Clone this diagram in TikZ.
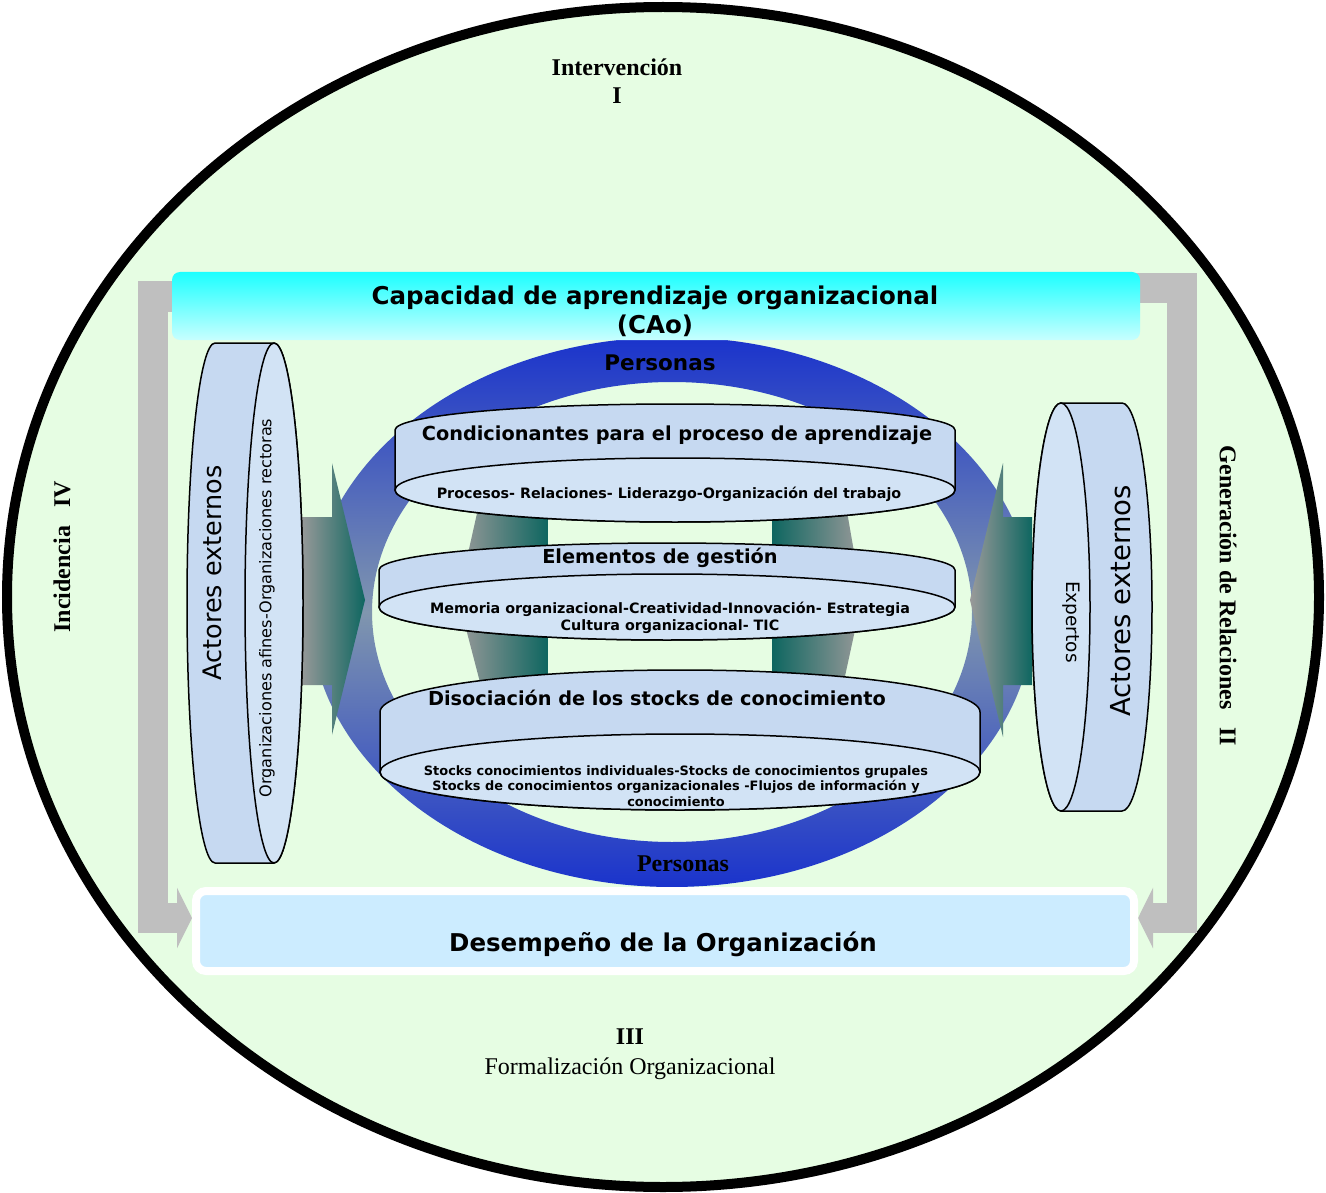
\documentclass[tikz,border=0pt]{standalone}
\usepackage{fontspec}
\setmainfont{Liberation Serif}
\setsansfont{DejaVu Sans}
\usetikzlibrary{arrows.meta}

\definecolor{fondo}{HTML}{E6FDE3}
\definecolor{barra}{HTML}{BFBFBF}
\definecolor{cilside}{HTML}{C6D9F1}
\definecolor{cilface}{HTML}{D2E3F5}
\definecolor{cian}{HTML}{1CFFFF}
\definecolor{cianclaro}{HTML}{C8FFFF}
\definecolor{desfill}{HTML}{CCECFF}
\definecolor{anillo}{HTML}{1A33CC}
\definecolor{anillomed}{HTML}{8096AE}
\definecolor{flechagris}{HTML}{9A9A9A}
\definecolor{flechaverde}{HTML}{0E6660}

\pgfdeclarelayer{back}
\pgfsetlayers{back,main}

\begin{document}
\begin{tikzpicture}[x=1pt,y=1pt,
        every node/.style={inner sep=0pt},
        gris/.style={line width=30pt, draw=barra, -{Triangle[length=15pt,width=60pt]}},
        cuerpo/.style={fill=cilside, draw=black, line width=1.5pt},
        cara/.style={fill=cilface, draw=black, line width=1.5pt},
        titcil/.style={font=\sffamily\bfseries\fontsize{19.3}{23}\selectfont},
        subcil/.style={font=\sffamily\bfseries\fontsize{14.3}{17}\selectfont, align=center},
        romano/.style={font=\bfseries\fontsize{24}{28}\selectfont, align=center}
    ]
    \useasboundingbox (0,0) rectangle (1326,-1193);
    \begin{pgfonlayer}{back}
        \fill[fondo, draw=black, line width=10pt] (663,-597) ellipse [x radius=656, y radius=590];
    \end{pgfonlayer}

    % anillo de personas
    \shade[even odd rule, top color=anillo, bottom color=anillo, middle color=anillomed]
        (672,-612) ellipse [x radius=362, y radius=275]
        (672,-612) ellipse [x radius=300, y radius=230];

    % flechas
    \shade[left color=flechagris, right color=flechaverde] (480,-500) -- (548,-500) -- (548,-690) -- (482,-690) -- (458,-598) -- cycle;
    \shade[left color=flechaverde, right color=flechagris] (772,-500) -- (845,-500) -- (862,-598) -- (842,-690) -- (772,-690) -- cycle;
    \shade[left color=flechagris, right color=flechaverde] (300,-517) -- (332,-517) -- (332,-463) -- (365,-600) -- (332,-735) -- (332,-685) -- (300,-685) -- cycle;
    \shade[left color=flechagris, right color=flechaverde] (1032,-517) -- (1003,-517) -- (1003,-463) -- (970,-600) -- (1003,-737) -- (1003,-685) -- (1032,-685) -- cycle;

    % cilindros centrales
    \foreach \cx/\rx/\ty/\tr/\by/\br in {675/280/430/26/490/32, 667/288/570/27/607/33, 680/300/712/42/772/38}{
        \filldraw[cuerpo] (\cx-\rx,-\ty) arc[start angle=180, end angle=0, x radius=\rx, y radius=\tr]
            -- (\cx+\rx,-\by) arc[start angle=0, end angle=-180, x radius=\rx, y radius=\br] -- cycle;
        \filldraw[cara] (\cx,-\by) ellipse [x radius=\rx, y radius=\br];
    }

    % cilindros laterales
    \filldraw[cuerpo] (274,-343) -- (215,-343) arc[start angle=90, end angle=270, x radius=28, y radius=260]
        -- (274,-863) arc[start angle=-90, end angle=90, x radius=29, y radius=260] -- cycle;
    \filldraw[cara] (274,-603) ellipse [x radius=29, y radius=260];
    \filldraw[cuerpo] (1061,-403) -- (1122,-403) arc[start angle=90, end angle=-90, x radius=30, y radius=204]
        -- (1061,-811) arc[start angle=270, end angle=90, x radius=29, y radius=204] -- cycle;
    \filldraw[cara] (1061,-607) ellipse [x radius=29, y radius=204];

    \node[top color=cian, bottom color=cianclaro, rounded corners=8pt, minimum width=968pt, minimum height=68pt] (cap) at (656,-306) {};
    \node[align=center, font=\sffamily\bfseries\fontsize{24.5}{29}\selectfont] (captxt) at (655,-311)
          {Capacidad de aprendizaje organizacional\\(CAo)};
    \node[fill=desfill, draw=white, line width=8pt, rounded corners=10pt, minimum width=938pt, minimum height=80pt] (des) at (665,-931) {};
    \node[font=\sffamily\bfseries\fontsize{24.5}{29}\selectfont] (destxt) at (663,-944) {Desempeño de la Organización};

    \node[font=\sffamily\bfseries\fontsize{21.5}{25}\selectfont] (persA) at (660,-363) {Personas};
    \node[font=\bfseries\fontsize{24}{28}\selectfont] (persB) at (683,-864) {Personas};

    \node[titcil] (cond) at (677,-435) {Condicionantes para el proceso de aprendizaje};
    \node[subcil] (proc) at (669,-494) {Procesos- Relaciones- Liderazgo-Organización del trabajo};
    \node[titcil] (elem) at (660,-558) {Elementos de gestión};
    \node[subcil] (mem) at (670,-618) {Memoria organizacional-Creatividad-Innovación- Estrategia\\Cultura organizacional- TIC};
    \node[titcil] (diso) at (657,-698) {Disociación de los stocks de conocimiento};
    \node[subcil, font=\sffamily\bfseries\fontsize{12.9}{15.5}\selectfont] (stk) at (676,-786)
          {Stocks conocimientos individuales-Stocks de conocimientos grupales\\Stocks de conocimientos organizacionales -Flujos de información y\\conocimiento};

    \node[rotate=90, font=\sffamily\fontsize{25.5}{30}\selectfont] (actI) at (212,-573) {Actores externos};
    \node[rotate=90, font=\sffamily\fontsize{16.1}{19}\selectfont] (orgs) at (267,-608) {Organizaciones afines-Organizaciones rectoras};
    \node[rotate=90, font=\sffamily\fontsize{27.5}{32}\selectfont] (actD) at (1121,-601) {Actores externos};
    \node[rotate=-90, font=\sffamily\fontsize{18.5}{22}\selectfont] (exp) at (1071,-622) {Expertos};

    \node[romano] (interv) at (617,-81) {Intervención\\I};
    \node[romano, font=\bfseries\fontsize{24}{30}\selectfont] (formal) at (630,-1054) {III\\\mdseries Formalización Organizacional};
    \node[romano, rotate=90] (incid) at (62,-557) {Incidencia\hspace{0.5em} IV};
    \node[romano, rotate=-90] (gener) at (1228,-596) {Generación de Relaciones\hspace{0.5em} II};

    \coordinate (izq) at (153,-296.5);
    \coordinate (der) at (1182,-288);
    \coordinate (abajo) at (0,-918);
    \begin{pgfonlayer}{back}
        \draw[gris] ([xshift=8pt]cap.west |- izq) -| (izq |- abajo) -- (des.west |- abajo);
        \draw[gris] ([xshift=-8pt]cap.east |- der) -| (der |- abajo) -- (des.east |- abajo);
    \end{pgfonlayer}
\end{tikzpicture}
\end{document}
